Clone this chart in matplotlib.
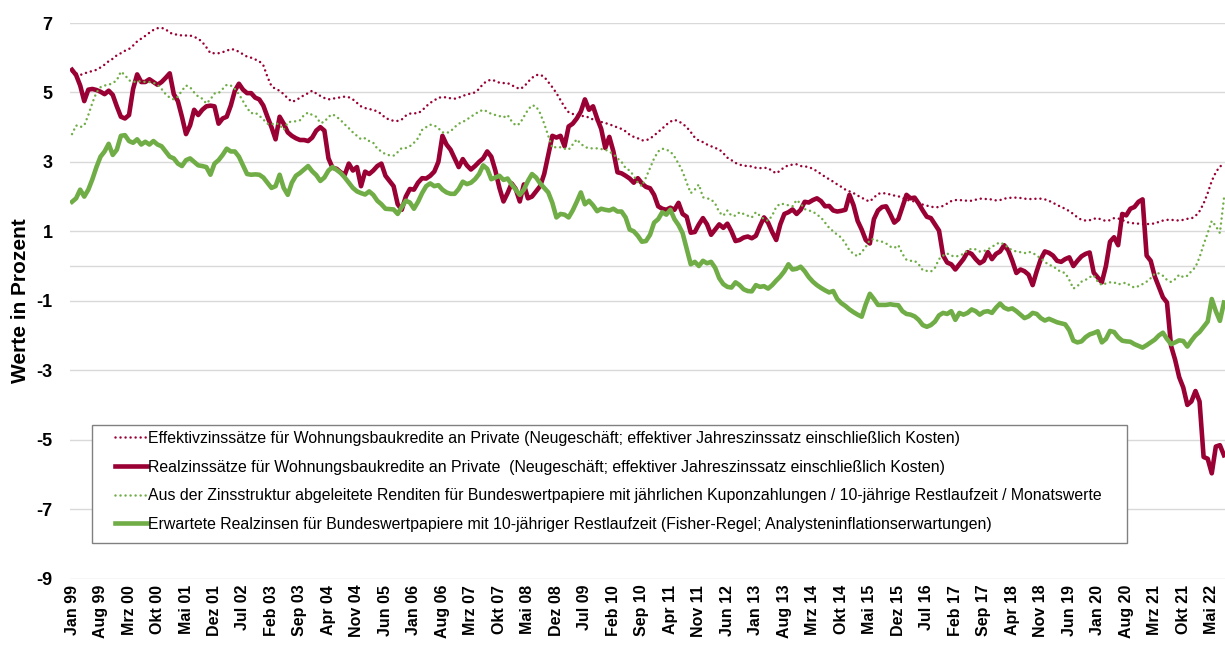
import matplotlib
matplotlib.use("Agg")
import matplotlib.pyplot as plt
import matplotlib.patches as mpatches
import numpy as np

plt.rcParams['font.family'] = ['Liberation Sans', 'DejaVu Sans']

# ---- data (monthly, Jan 1999 .. Aug 2022) ----
effektivzins = [
    5.6, 5.55, 5.5, 5.55, 5.58, 5.62, 5.65, 5.72, 5.8, 5.9,
    5.97, 6.07, 6.13, 6.2, 6.25, 6.35, 6.47, 6.55, 6.63, 6.72,
    6.8, 6.85, 6.86, 6.82, 6.72, 6.68, 6.66, 6.64, 6.64, 6.64,
    6.6, 6.55, 6.45, 6.3, 6.13, 6.13, 6.13, 6.16, 6.2, 6.25,
    6.23, 6.17, 6.1, 6.03, 6.0, 5.95, 5.9, 5.78, 5.45, 5.18,
    5.1, 5.05, 4.95, 4.83, 4.73, 4.77, 4.85, 4.92, 4.98, 5.05,
    4.97, 4.9, 4.84, 4.8, 4.82, 4.84, 4.86, 4.88, 4.86, 4.8,
    4.7, 4.6, 4.55, 4.52, 4.5, 4.45, 4.38, 4.26, 4.22, 4.18,
    4.18, 4.22, 4.33, 4.39, 4.4, 4.4, 4.48, 4.6, 4.7, 4.77,
    4.85, 4.86, 4.86, 4.83, 4.82, 4.85, 4.9, 4.94, 4.97, 5.0,
    5.1, 5.25, 5.33, 5.37, 5.33, 5.28, 5.27, 5.27, 5.21, 5.15,
    5.1, 5.16, 5.3, 5.42, 5.5, 5.51, 5.45, 5.3, 5.15, 4.98,
    4.78, 4.58, 4.43, 4.38, 4.36, 4.33, 4.31, 4.28, 4.22, 4.18,
    4.15, 4.12, 4.08, 4.04, 3.99, 3.95, 3.88, 3.78, 3.72, 3.68,
    3.62, 3.62, 3.67, 3.76, 3.86, 3.96, 4.07, 4.16, 4.21, 4.17,
    4.1, 4.0, 3.86, 3.7, 3.61, 3.57, 3.5, 3.45, 3.4, 3.36,
    3.25, 3.12, 3.05, 2.97, 2.92, 2.89, 2.88, 2.87, 2.83, 2.82,
    2.83, 2.82, 2.74, 2.67, 2.75, 2.85, 2.9, 2.92, 2.93, 2.88,
    2.87, 2.85, 2.8, 2.73, 2.65, 2.57, 2.5, 2.43, 2.35, 2.28,
    2.2, 2.15, 2.1, 2.03, 1.97, 1.9, 1.86, 1.97, 2.08, 2.1,
    2.09, 2.06, 2.03, 2.01, 1.96, 1.91, 1.88, 1.86, 1.82, 1.77,
    1.74, 1.71, 1.69, 1.7, 1.73, 1.8, 1.87, 1.9, 1.9, 1.89,
    1.88, 1.88, 1.91, 1.94, 1.94, 1.92, 1.92, 1.89, 1.9, 1.94,
    1.96, 1.97, 1.97, 1.96, 1.94, 1.93, 1.93, 1.94, 1.94, 1.92,
    1.88, 1.82, 1.76, 1.7, 1.65, 1.58, 1.5, 1.4, 1.33, 1.31,
    1.32, 1.36, 1.38, 1.33, 1.3, 1.32, 1.38, 1.37, 1.33, 1.27,
    1.24, 1.23, 1.22, 1.21, 1.21, 1.21, 1.23, 1.27, 1.31, 1.33,
    1.33, 1.32, 1.31, 1.33, 1.36, 1.37, 1.44, 1.58, 1.8, 2.1,
    2.45, 2.7, 2.87, 2.92,
]

realzins = [
    5.65, 5.5, 5.2, 4.75, 5.08, 5.1, 5.07, 5.02, 4.95, 5.05,
    4.93, 4.6, 4.3, 4.25, 4.35, 5.1, 5.52, 5.3, 5.3, 5.38,
    5.3, 5.22, 5.3, 5.42, 5.55, 4.95, 4.75, 4.3, 3.8, 4.05,
    4.5, 4.35, 4.5, 4.6, 4.62, 4.6, 4.1, 4.25, 4.3, 4.62,
    5.05, 5.25, 5.08, 4.98, 4.98, 4.85, 4.8, 4.62, 4.3, 4.0,
    3.65, 4.3, 4.1, 3.85, 3.75, 3.68, 3.63, 3.63, 3.6, 3.7,
    3.9, 4.0, 3.9, 3.1, 2.83, 2.8, 2.7, 2.63, 2.95, 2.75,
    2.85, 2.3, 2.72, 2.65, 2.75, 2.88, 2.95, 2.6, 2.45, 2.3,
    1.78, 1.62, 2.0, 2.22, 2.2, 2.4, 2.53, 2.52, 2.6, 2.72,
    3.0, 3.75, 3.5, 3.35, 3.1, 2.85, 3.08, 2.9, 2.78, 2.88,
    3.0, 3.1, 3.3, 3.15, 2.75, 2.25, 1.86, 2.1, 2.38, 2.22,
    1.86, 2.35, 1.95, 2.0, 2.15, 2.3, 2.65, 3.2, 3.75, 3.7,
    3.75, 3.45, 4.02, 4.1, 4.25, 4.45, 4.8, 4.5, 4.6, 4.25,
    3.95, 3.4, 3.72, 3.3, 2.7, 2.67, 2.6, 2.52, 2.4, 2.53,
    2.38, 2.28, 2.24, 2.05, 1.72, 1.65, 1.62, 1.68, 1.62, 1.82,
    1.5, 1.42, 0.96, 0.98, 1.2, 1.38, 1.2, 0.9, 1.05, 1.2,
    1.1, 1.22, 1.0, 0.72, 0.75, 0.82, 0.85, 0.8, 0.87, 1.15,
    1.4, 1.25, 0.98, 0.75, 1.2, 1.5, 1.55, 1.63, 1.5, 1.62,
    1.85, 1.83, 1.9, 1.95, 1.87, 1.72, 1.73, 1.6, 1.57, 1.59,
    1.62, 2.05, 1.75, 1.3, 1.05, 0.75, 0.65, 1.35, 1.6, 1.7,
    1.72, 1.5, 1.25, 1.35, 1.7, 2.05, 1.95, 1.97, 1.8, 1.6,
    1.42, 1.38, 1.2, 1.02, 0.3, 0.1, 0.05, -0.1, 0.05, 0.2,
    0.4, 0.35, 0.2, 0.08, 0.15, 0.4, 0.2, 0.35, 0.42, 0.6,
    0.45, 0.15, -0.2, -0.1, -0.15, -0.25, -0.55, -0.15, 0.2, 0.42,
    0.38, 0.3, 0.15, 0.12, 0.2, 0.25, 0.0, 0.15, 0.28, 0.35,
    0.39, -0.19, -0.33, -0.47, 0.0, 0.7, 0.83, 0.6, 1.5, 1.46,
    1.65, 1.7, 1.85, 1.92, 0.3, 0.15, -0.3, -0.6, -0.9, -1.05,
    -2.3, -2.7, -3.2, -3.5, -4.0, -3.9, -3.6, -3.9, -5.5, -5.55,
    -5.97, -5.2, -5.16, -5.45,
]

bundrendite = [
    3.8, 4.05, 4.0, 4.05, 4.35, 4.7, 5.0, 5.15, 5.2, 5.22,
    5.27, 5.35, 5.6, 5.5, 5.35, 5.3, 5.32, 5.32, 5.3, 5.3,
    5.28, 5.22, 5.1, 4.95, 4.85, 4.8, 4.88, 5.05, 5.2, 5.15,
    5.0, 4.88, 4.82, 4.68, 4.8, 4.97, 4.98, 5.1, 5.22, 5.2,
    5.1, 4.95, 4.75, 4.55, 4.4, 4.42, 4.33, 4.22, 4.1, 4.08,
    4.12, 4.07, 3.92, 4.14, 4.16, 4.17, 4.2, 4.35, 4.42, 4.35,
    4.3, 4.12, 4.15, 4.3, 4.37, 4.3, 4.2, 4.08, 3.97, 3.85,
    3.75, 3.65, 3.68, 3.6, 3.55, 3.38, 3.3, 3.22, 3.19, 3.18,
    3.28, 3.4, 3.4, 3.45, 3.55, 3.68, 3.92, 4.0, 4.07, 4.05,
    3.97, 3.85, 3.83, 3.88, 4.0, 4.1, 4.15, 4.22, 4.3, 4.38,
    4.45, 4.5, 4.45, 4.38, 4.35, 4.32, 4.28, 4.35, 4.17, 4.05,
    4.1, 4.3, 4.5, 4.63, 4.6, 4.4, 4.1, 3.75, 3.4, 3.43,
    3.42, 3.38, 3.35, 3.5, 3.65, 3.52, 3.43, 3.39, 3.39, 3.39,
    3.37, 3.35, 3.3, 3.22, 3.1, 3.0, 2.82, 2.75, 2.6, 2.4,
    2.3, 2.55, 2.82, 3.1, 3.3, 3.38, 3.35, 3.3, 3.15, 2.95,
    2.72, 2.4, 2.1, 2.2, 2.35, 1.98, 1.95, 1.92, 1.8, 1.55,
    1.45, 1.6, 1.45, 1.45, 1.55, 1.5, 1.45, 1.4, 1.55, 1.45,
    1.35, 1.3, 1.45, 1.7, 1.8, 1.78, 1.75, 1.72, 1.9, 1.8,
    1.64, 1.6, 1.57, 1.48, 1.4, 1.25, 1.1, 1.0, 0.9, 0.82,
    0.65, 0.45, 0.35, 0.28, 0.4, 0.55, 0.75, 0.78, 0.72, 0.7,
    0.65, 0.56, 0.52, 0.6, 0.35, 0.18, 0.15, 0.15, 0.05, -0.12,
    -0.14, -0.16, -0.05, 0.2, 0.3, 0.36, 0.3, 0.27, 0.3, 0.35,
    0.45, 0.5, 0.48, 0.42, 0.43, 0.48, 0.55, 0.63, 0.68, 0.62,
    0.53, 0.45, 0.42, 0.4, 0.37, 0.41, 0.38, 0.3, 0.22, 0.12,
    0.03, 0.0, -0.1, -0.17, -0.2, -0.4, -0.65, -0.58, -0.45, -0.4,
    -0.32, -0.27, -0.45, -0.55, -0.5, -0.47, -0.47, -0.53, -0.5, -0.48,
    -0.57, -0.62, -0.58, -0.52, -0.45, -0.35, -0.22, -0.21, -0.28, -0.4,
    -0.46, -0.38, -0.25, -0.32, -0.28, -0.15, -0.03, 0.25, 0.62, 0.95,
    1.3, 1.15, 0.95, 1.95,
]

erwarteter_realzins = [
    1.85, 1.95, 2.2, 2.0, 2.2, 2.5, 2.85, 3.15, 3.3, 3.52,
    3.2, 3.35, 3.75, 3.77, 3.6, 3.55, 3.65, 3.5, 3.58, 3.5,
    3.6, 3.5, 3.45, 3.3, 3.15, 3.1, 2.95, 2.88, 3.05, 3.1,
    3.0, 2.9, 2.88, 2.85, 2.63, 2.95, 3.05, 3.2, 3.38, 3.3,
    3.3, 3.15, 2.9, 2.65, 2.63, 2.64, 2.63, 2.55, 2.4, 2.25,
    2.3, 2.63, 2.25, 2.05, 2.4, 2.6, 2.68, 2.78, 2.88, 2.73,
    2.62, 2.45, 2.55, 2.75, 2.85, 2.77, 2.68, 2.55, 2.4, 2.25,
    2.15, 2.1, 2.06, 2.15, 2.05, 1.88, 1.78, 1.65, 1.64, 1.63,
    1.5, 1.7, 1.88, 1.83, 1.65, 1.85, 2.1, 2.3, 2.38, 2.3,
    2.33, 2.2, 2.12, 2.08, 2.08, 2.22, 2.43, 2.36, 2.4, 2.5,
    2.65, 2.9, 2.8, 2.5, 2.55, 2.6, 2.48, 2.52, 2.35, 2.2,
    2.05, 2.2, 2.45, 2.65, 2.55, 2.38, 2.25, 2.12, 1.82, 1.4,
    1.5, 1.48, 1.4, 1.6, 1.85, 2.12, 1.78, 1.88, 1.75, 1.58,
    1.65, 1.62, 1.6, 1.65, 1.57, 1.57, 1.4, 1.05, 1.0, 0.87,
    0.7, 0.72, 0.9, 1.25, 1.35, 1.55, 1.48, 1.62, 1.35, 1.18,
    0.95, 0.5, 0.05, 0.12, 0.0, 0.15, 0.08, 0.12, -0.05, -0.35,
    -0.52, -0.6, -0.62, -0.47, -0.55, -0.67, -0.72, -0.73, -0.55, -0.6,
    -0.58, -0.65, -0.55, -0.42, -0.3, -0.15, 0.05, -0.1, -0.08, -0.02,
    -0.15, -0.32, -0.45, -0.55, -0.63, -0.7, -0.76, -0.72, -0.95, -1.07,
    -1.15, -1.25, -1.33, -1.4, -1.46, -1.1, -0.8, -0.95, -1.12, -1.12,
    -1.12, -1.1, -1.12, -1.13, -1.3, -1.38, -1.4, -1.45, -1.55, -1.7,
    -1.75, -1.7, -1.6, -1.42, -1.35, -1.38, -1.3, -1.55, -1.35, -1.4,
    -1.35, -1.25, -1.3, -1.4, -1.32, -1.3, -1.35, -1.2, -1.08, -1.2,
    -1.25, -1.22, -1.3, -1.4, -1.5, -1.45, -1.35, -1.38, -1.5, -1.57,
    -1.52, -1.57, -1.62, -1.65, -1.68, -1.85, -2.15, -2.2, -2.17, -2.05,
    -1.97, -1.93, -1.88, -2.2, -2.1, -1.87, -1.9, -2.05, -2.15, -2.17,
    -2.18, -2.25, -2.3, -2.35, -2.28, -2.2, -2.12, -2.0, -1.92, -2.1,
    -2.25, -2.2, -2.14, -2.16, -2.32, -2.15, -2.0, -1.9, -1.75, -1.6,
    -0.95, -1.3, -1.58, -1.05,
]

tick_labels = [
    "Jan 99", "Aug 99", "Mrz 00", "Okt 00", "Mai 01", "Dez 01", "Jul 02",
    "Feb 03", "Sep 03", "Apr 04", "Nov 04", "Jun 05", "Jan 06", "Aug 06",
    "Mrz 07", "Okt 07", "Mai 08", "Dez 08", "Jul 09", "Feb 10", "Sep 10",
    "Apr 11", "Nov 11", "Jun 12", "Jan 13", "Aug 13", "Mrz 14", "Okt 14",
    "Mai 15", "Dez 15", "Jul 16", "Feb 17", "Sep 17", "Apr 18", "Nov 18",
    "Jun 19", "Jan 20", "Aug 20", "Mrz 21", "Okt 21", "Mai 22",
]
tick_step = 7

legend_labels = [
    "Effektivzinssätze für Wohnungsbaukredite an Private (Neugeschäft; effektiver Jahreszinssatz einschließlich Kosten)",
    "Realzinssätze für Wohnungsbaukredite an Private  (Neugeschäft; effektiver Jahreszinssatz einschließlich Kosten)",
    "Aus der Zinsstruktur abgeleitete Renditen für Bundeswertpapiere mit jährlichen Kuponzahlungen / 10-jährige Restlaufzeit / Monatswerte",
    "Erwartete Realzinsen für Bundeswertpapiere mit 10-jähriger Restlaufzeit (Fisher-Regel; Analysteninflationserwartungen)",
]

y_ticks = [7, 5, 3, 1, -1, -3, -5, -7, -9]

# ---- figure ----
W, H = 1225, 646
fig = plt.figure(figsize=(W / 100, H / 100), dpi=100)
AX_L, AX_R, AX_T, AX_B = 70, 1226, 23, 578.5
ax = fig.add_axes([AX_L / W, 1 - AX_B / H, (AX_R - AX_L) / W, (AX_B - AX_T) / H])

RED = "#990033"
GREEN = "#70AD47"
DOTS = (0, (0.01, 2.0))
n = len(effektivzins)
x = np.arange(n)

ax.plot(x, effektivzins, color=RED, lw=1.8, linestyle=DOTS,
        dash_capstyle="round", label=legend_labels[0], zorder=3)
ax.plot(x, realzins, color=RED, lw=3.3, solid_joinstyle="round",
        label=legend_labels[1], zorder=4)
ax.plot(x, bundrendite, color=GREEN, lw=1.8, linestyle=DOTS,
        dash_capstyle="round", label=legend_labels[2], zorder=5)
ax.plot(x, erwarteter_realzins, color=GREEN, lw=3.3, solid_joinstyle="round",
        label=legend_labels[3], zorder=6)

ax.set_xlim(-0.5, n - 0.5)
ax.set_ylim(-9, 7)
ax.set_yticks(y_ticks)
ax.set_yticklabels([str(v) for v in y_ticks], fontsize=13, fontweight="bold")
ax.set_xticks(np.arange(0, len(tick_labels) * tick_step, tick_step))
ax.set_xticklabels(tick_labels, rotation=90, fontsize=11.5, fontweight="bold")
ax.tick_params(axis="both", length=0)
ax.tick_params(axis="y", pad=12.5)
ax.tick_params(axis="x", pad=4.5)

for s in ax.spines.values():
    s.set_visible(False)
ax.grid(axis="y", color="#D9D9D9", lw=1.0, zorder=0)
ax.axhline(0, color="#D9D9D9", lw=1.0, zorder=0)
ax.set_axisbelow(True)

ax.set_ylabel("Werte in Prozent", fontsize=15, fontweight="bold")
ax.yaxis.set_label_coords(-(AX_L - 30) / (AX_R - AX_L), 0.5)

# legend frame (white box with grey border)
frame = mpatches.Rectangle((92 / W, 1 - 543 / H), (1127 - 92) / W, (543 - 425) / H,
                           transform=fig.transFigure, facecolor="white",
                           edgecolor="#808080", linewidth=1.0, zorder=4)
fig.patches.append(frame)

leg = fig.legend(loc="upper left", bbox_to_anchor=(115 / W, 1 - 431 / H),
                 fontsize=11.4, frameon=False, handlelength=2.02,
                 handletextpad=0.06, labelspacing=0.86, borderpad=0,
                 borderaxespad=0)
leg.set_zorder(6)

fig.savefig("out.png", dpi=100)
